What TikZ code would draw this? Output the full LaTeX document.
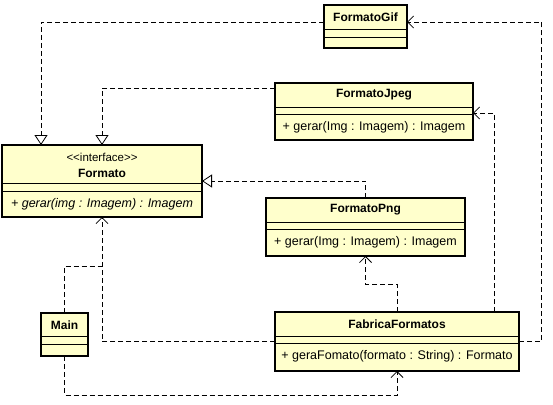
\documentclass[tikz,border=0pt]{standalone}
\usepackage{fontspec}
\setmainfont{Liberation Sans}
\usepackage{tikz}
\usetikzlibrary{positioning}
\usetikzlibrary{calc}
\usetikzlibrary{arrows.meta}
\definecolor{classfill}{HTML}{FFFFCC}
\tikzset{>=latex}

\begin{document}
\begin{tikzpicture}[x=1pt, y=-1pt,
  classbox/.style={draw, line width=1.6pt, fill=classfill, anchor=north west,
    inner sep=0pt, outer sep=0pt},
  divider/.style={line width=0.8pt},
  cname/.style={font=\fontsize{12}{14}\selectfont\bfseries},
  cmeth/.style={font=\fontsize{12.5}{14}\selectfont},
  dep/.style={dash pattern=on 5pt off 3pt, line width=0.8pt,
    -{Straight Barb[length=6pt, width=12pt]}},
  realize/.style={dash pattern=on 5pt off 3pt, line width=0.8pt,
    -{Triangle[open, length=10pt, width=13pt, fill=white]}},
  plain/.style={dash pattern=on 5pt off 3pt, line width=0.8pt}]

\useasboundingbox (0,0) rectangle (553,404);

% --- Class boxes ---
\node[classbox, minimum width=83pt, minimum height=43pt] (gif) at (324,5) {};
\node[classbox, minimum width=198pt, minimum height=57pt] (jpeg) at (275,83) {};
\node[classbox, minimum width=200pt, minimum height=72pt] (formato) at (2,145) {};
\node[classbox, minimum width=199pt, minimum height=58pt] (png) at (266,198) {};
\node[classbox, minimum width=244pt, minimum height=59pt] (fab) at (275,312) {};
\node[classbox, minimum width=47pt, minimum height=43pt] (main) at (41,313) {};

% --- Compartment lines ---
\foreach \c/\a/\b in {gif/24/32, jpeg/24/31, formato/38/46, png/24/31, fab/24/31, main/23/31}{
  \draw[divider] ([yshift=-\a pt]\c.north west) -- ([yshift=-\a pt]\c.north east);
  \draw[divider] ([yshift=-\b pt]\c.north west) -- ([yshift=-\b pt]\c.north east);
}

% --- Names and operations ---
\node[cname] (gifname) at (365.5,17) {FormatoGif};
\node[cname] (jpegname) at (374,95) {FormatoJpeg};
\node[cmeth] (jpegop) at (374,127) {+ gerar(Img : Imagem) : Imagem};
\node[cmeth, font=\fontsize{11.5}{13}\selectfont] (formatost) at (102,157)
  {<\kern0pt<interface>\kern0pt>};
\node[cname] (formatoname) at (102,173) {Formato};
\node[cmeth, font=\fontsize{12.5}{14}\selectfont\itshape] (formatoop) at (102,204)
  {+ gerar(img : Imagem) : Imagem};
\node[cname] (pngname) at (365.5,210) {FormatoPng};
\node[cmeth] (pngop) at (365.5,242) {+ gerar(Img : Imagem) : Imagem};
\node[cname] (fabname) at (397,324) {FabricaFormatos};
\node[cmeth] (fabop) at (397,356) {+ geraFomato(formato : String) : Formato};
\node[cname] (mainname) at (64.5,325) {Main};

% --- Realizations ---
\draw[realize] ([yshift=4.5pt]gif.west) -| ([xshift=39pt]formato.north west);
\draw[realize] ([yshift=-5pt]jpeg.north west) -| ([xshift=100pt]formato.north west);
\draw[realize] (png.north) |- (formato.east);

% --- Dependencies ---
\coordinate (mainjoin) at (102,266);
\draw[plain] (main.north) |- (mainjoin);
\draw[dep] (fab.west) -| ([xshift=100pt]formato.south west);
\draw[dep] (main.south) -- ++(0,39) -| (fab.south);
\draw[dep] (fab.north) -- ++(0,-28) -| (png.south);
\draw[dep] ([xshift=-25pt]fab.north east) |- ([yshift=-30pt]jpeg.north east);
\draw[dep] (fab.east) -- ++(22,0) |- ([yshift=4.5pt]gif.east);

\end{tikzpicture}
\end{document}
